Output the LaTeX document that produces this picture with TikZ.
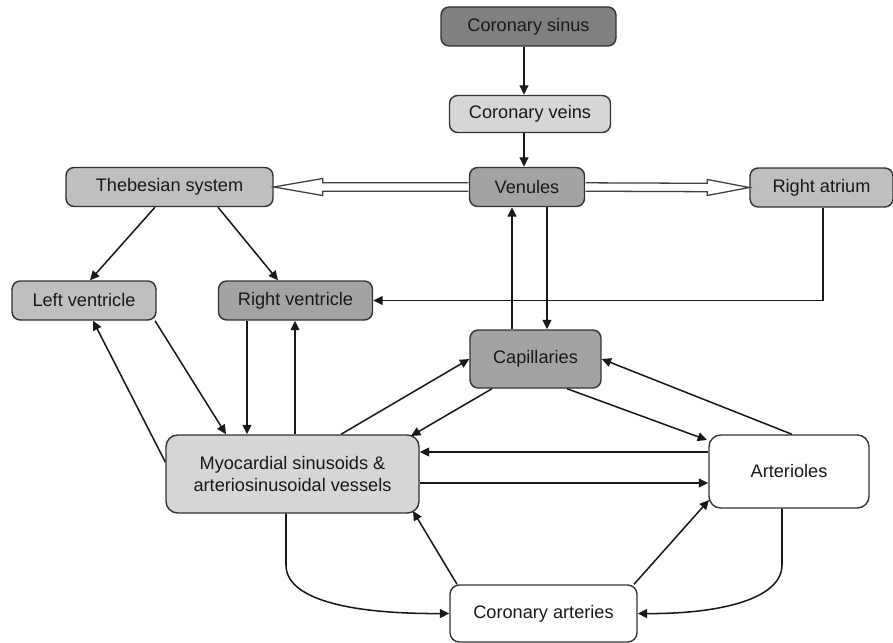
\documentclass[tikz,border=0pt]{standalone}
\usepackage{fontspec}
\setmainfont{Liberation Sans}
\usetikzlibrary{arrows.meta, calc}

\begin{document}
\begin{tikzpicture}[
    x=0.03cm, y=-0.03cm,
    >={Triangle[length=8pt, width=7.5pt]},
    font=\fontsize{15.5}{18.5}\selectfont,
    box/.style={draw=black!80, line width=1.2pt, rounded corners=7pt,
                align=center, inner sep=0pt, text=black!90},
    darkbox/.style={box, fill=black!50},
    midbox/.style={box, fill=black!36},
    lightbox/.style={box, fill=black!25},
    palebox/.style={box, fill=black!16},
    link/.style={->, line width=1.3pt, draw=black!90},
    hollow/.style={draw=black!75, fill=white, line width=1.1pt, line join=miter}
  ]
    \useasboundingbox (0,0) rectangle (893,643);

    \node[darkbox, minimum width=5.25cm, minimum height=1.17cm] (sinus) at (528.5,26.5) {Coronary sinus};
    \node[palebox, minimum width=4.83cm, minimum height=1.11cm] (veins) at (530,114) {Coronary veins};
    \node[midbox, minimum width=3.45cm, minimum height=1.17cm] (ven) at (527,187) {Venules};
    \node[lightbox, minimum width=6.21cm, minimum height=1.17cm] (theb) at (169.5,187) {Thebesian system};
    \node[lightbox, minimum width=4.29cm, minimum height=1.17cm] (ra) at (821.5,187.5) {Right atrium};
    \node[lightbox, minimum width=4.32cm, minimum height=1.17cm] (lv) at (84,300.5) {Left ventricle};
    \node[midbox, minimum width=4.62cm, minimum height=1.17cm] (rv) at (295.5,300.5) {Right ventricle};
    \node[midbox, minimum width=3.93cm, minimum height=1.74cm] (cap) at (535.5,359) {Capillaries};
    \node[palebox, rounded corners=10pt, minimum width=7.59cm, minimum height=2.34cm] (myo) at (292.5,474)
        {Myocardial sinusoids \&\\arteriosinusoidal vessels};
    \node[box, fill=white, rounded corners=10pt, minimum width=4.8cm, minimum height=2.19cm] (art) at (789,471.5) {Arterioles};
    \node[box, fill=white, rounded corners=8pt, minimum width=5.61cm, minimum height=1.71cm] (cor) at (543.5,613.5) {Coronary arteries};

    % venous side
    \draw[link] (524,0 |- sinus.south) -- (524,0 |- veins.north);
    \draw[link] (524,0 |- veins.south) -- (524,0 |- ven.north);
    \draw[hollow] ($(ven.west)+(-0.5,-4.2)$) -- ($(theb.east)+(49,-4.2)$) -- ($(theb.east)+(49,-8.5)$)
        -- (theb.east) -- ($(theb.east)+(49,8.5)$) -- ($(theb.east)+(49,4.2)$) -- ($(ven.west)+(-0.5,4.2)$);
    \draw[hollow] ($(ven.east)+(0.5,-4.2)$) -- ($(ra.west)+(-42,-4.2)$) -- ($(ra.west)+(-42,-8)$)
        -- (ra.west) -- ($(ra.west)+(-42,8)$) -- ($(ra.west)+(-42,4.2)$) -- ($(ven.east)+(0.5,4.2)$);
    \draw[link] (512,0 |- cap.north) -- (512,0 |- ven.south);
    \draw[link] (547,0 |- ven.south) -- (547,0 |- cap.north);
    \draw[link] (823,0 |- ra.south) |- (rv.east);

    % thebesian veins to ventricles
    \draw[link] (155,0 |- theb.south) -- (90,0 |- lv.north);
    \draw[link] (218,0 |- theb.south) -- (278,0 |- rv.north);

    % ventricles and sinusoids
    \draw[link] (155,0 |- lv.south) -- (226,0 |- myo.north);
    \draw[link] (myo.west |- 0,462) -- (93,0 |- lv.south);
    \draw[link] (247,0 |- rv.south) -- (247,0 |- myo.north);
    \draw[link] (295,0 |- myo.north) -- (295,0 |- rv.south);

    % capillary bed
    \draw[link] (341,0 |- myo.north) -- (cap.west |- 0,359);
    \draw[link] (492,0 |- cap.south) -- (411,436);
    \draw[link] (567,0 |- cap.south) -- (707,440);
    \draw[link] (792,0 |- art.north) -- (cap.east |- 0,359);
    \draw[link] (art.west |- 0,452) -- (myo.east |- 0,452);
    \draw[link] (myo.east |- 0,483) -- (art.west |- 0,483);

    % arterial supply
    \draw[link] (457,0 |- cor.north) -- (413,511);
    \draw[link] (634,0 |- cor.north) -- (709,500);
    \draw[link] (286,0 |- myo.south) -- (286,565) .. controls (286,598) and (345,614) .. (cor.west);
    \draw[link] (782,0 |- art.south) -- (782,565) .. controls (782,598) and (723,614) .. (cor.east);
  \end{tikzpicture}
\end{document}
